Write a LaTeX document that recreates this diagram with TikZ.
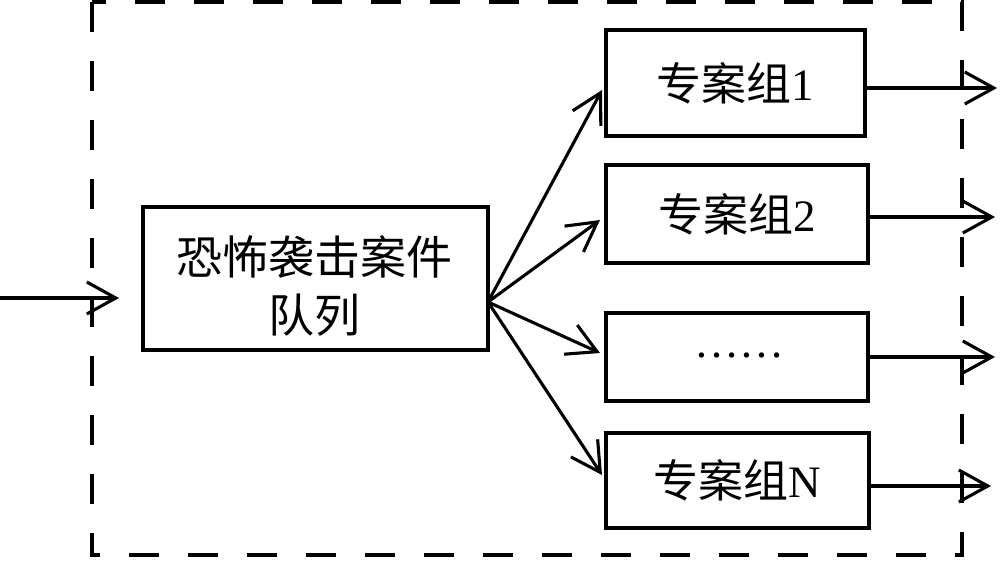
\documentclass[tikz,border=0pt]{standalone}
\usepackage{fontspec}
\setmainfont{Liberation Serif}
\newfontfamily\cjk{Noto Sans CJK SC}
\usetikzlibrary{arrows.meta}
\begin{document}
\begin{tikzpicture}[x=1pt,y=-1pt,
  box/.style={draw, line width=3.1pt, inner sep=0pt, font=\fontsize{45}{58}\selectfont},
  arr/.style={line width=3.1pt, -{Straight Barb[length=29pt,width=32pt]}},
  frame/.style={line width=3.1pt, dash pattern=on 30pt off 29pt}]
\useasboundingbox (0,0) rectangle (1000,560);
% dashed frame
\draw[frame] (92,2) rectangle (962,555);
% main box
\node[box, minimum width=345pt, minimum height=143pt] (q) at (315.5,278.5) {};
\node[font=\fontsize{46}{58}\selectfont\cjk, align=center, inner sep=0pt] (qt) at (314,286) {恐怖袭击案件\\队列};
% group boxes
\node[box, minimum width=259pt, minimum height=106pt] (g1) at (735.5,83) {{\cjk 专案组}1};
\node[box, minimum width=262pt, minimum height=98pt] (g2) at (737,214) {{\cjk 专案组}2};
\node[box, minimum width=262pt, minimum height=88pt] (g3) at (737,357) {};
\node[font=\fontsize{45}{58}\selectfont, anchor=base, inner sep=0pt] (g3t) at (739,357) {……};
\node[box, minimum width=263pt, minimum height=95pt] (g4) at (737.5,480.5) {{\cjk 专案组}N};
% coordinates
\coordinate (in) at (0,298);
\coordinate (inend) at (119,298);
\coordinate (fan) at (488,302);
\coordinate (t1) at (602,90);
\coordinate (t2) at (600,220);
\coordinate (t3) at (600,353);
\coordinate (t4) at (602,475);
\coordinate (o1) at (997,88);
\coordinate (o2) at (995,217);
\coordinate (o3) at (995,357);
\coordinate (o4) at (991,486);
% connectors
\draw[arr] (in) -- (inend);
\draw[arr] (fan) -- (t1);
\draw[arr] (fan) -- (t2);
\draw[arr] (fan) -- (t3);
\draw[arr] (fan) -- (t4);
\draw[arr] (o1 -| g1.east) -- (o1);
\draw[arr] (o2 -| g2.east) -- (o2);
\draw[arr] (o3 -| g3.east) -- (o3);
\draw[arr] (o4 -| g4.east) -- (o4);
\end{tikzpicture}
\end{document}
